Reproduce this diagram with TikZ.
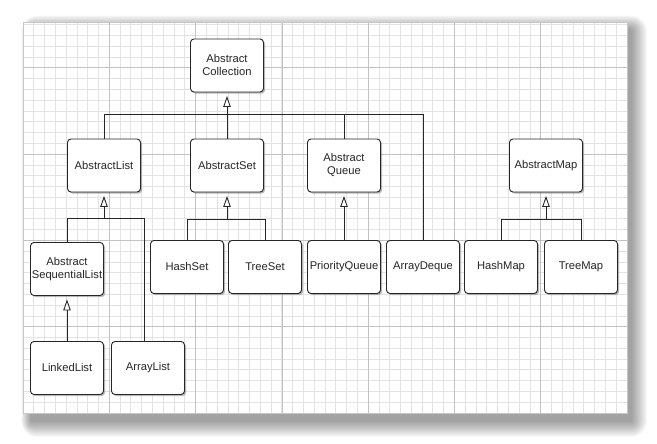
\documentclass[tikz,border=0pt]{standalone}
\usepackage{fontspec}
\setmainfont{Liberation Sans}
\usetikzlibrary{arrows.meta,shadows}

\tikzset{
  cls/.style={draw=black!85,line width=.9pt,fill=white,rounded corners=3.5pt,
    minimum width=73pt,minimum height=53pt,inner sep=1pt,align=center,
    text=black!85,font=\fontsize{11.2}{13}\selectfont,
    drop shadow={shadow xshift=1.6pt,shadow yshift=-1.6pt,opacity=.45,fill=black!60}},
  link/.style={draw=black!85,line width=.9pt},
  inh/.style={-{Triangle[fill=white,length=11pt,width=7.5pt]},shorten >=3.5pt}
}

\begin{document}
\begin{tikzpicture}[x=1pt,y=1pt]
\useasboundingbox (0,0) rectangle (657,444);
\foreach \i in {1,...,16}
  \fill[black,opacity=.028,rounded corners=\i pt] (31-.6*\i,23-\i) rectangle (631+\i,414+.9*\i);
\fill[white] (23,31) rectangle (627,422);
\draw[black!11,line width=.8pt,step=10.786pt,shift={(23,31)}] (0,0) grid (603.9,391);
\draw[black!24,line width=.8pt,step=86.3pt,shift={(23,31)}] (0,0) grid (603.9,391);
\draw[black!22,line width=.6pt] (23,31) rectangle (627,422);

\node[cls] (coll) at (227,378.5) {Abstract\\Collection};
\node[cls] (alist) at (104,278.5) {AbstractList};
\node[cls] (aset) at (227,278.5) {AbstractSet};
\node[cls] (aqueue) at (344,278.5) {Abstract\\Queue};
\node[cls] (amap) at (546,278.5) {AbstractMap};
\node[cls] (aseq) at (67,175) {Abstract\\SequentialList};
\node[cls] (hset) at (187,177) {HashSet};
\node[cls] (tset) at (265,177) {TreeSet};
\node[cls] (pqueue) at (344,177) {PriorityQueue};
\node[cls] (adeque) at (423,177) {ArrayDeque};
\node[cls] (hmap) at (501,177) {HashMap};
\node[cls] (tmap) at (581,177) {TreeMap};
\node[cls] (llist) at (67,76) {LinkedList};
\node[cls] (arrlist) at (148,76) {ArrayList};

\coordinate (collbus) at (227,330);
\coordinate (listbus) at (104,226);
\coordinate (setbus) at (227,225);
\coordinate (mapbus) at (546,225);
\coordinate (arrtop) at ([xshift=-4pt]arrlist.north);

\draw[link] (alist.north) |- (adeque.north |- collbus) -- (adeque.north);
\draw[link] (aset.north) -- (collbus);
\draw[link] (aqueue.north) -- (aqueue.north |- collbus);
\draw[link,inh] (collbus) -- (coll);
\draw[link] (aseq.north) |- (arrtop |- listbus) -- (arrtop);
\draw[link,inh] (listbus) -- (alist);
\draw[link] (hset.north) |- (tset.north |- setbus) -- (tset.north);
\draw[link,inh] (setbus) -- (aset);
\draw[link,inh] (pqueue) -- (aqueue);
\draw[link] (hmap.north) |- (tmap.north |- mapbus) -- (tmap.north);
\draw[link,inh] (mapbus) -- (amap);
\draw[link,inh] (llist) -- (aseq);
\end{tikzpicture}
\end{document}
